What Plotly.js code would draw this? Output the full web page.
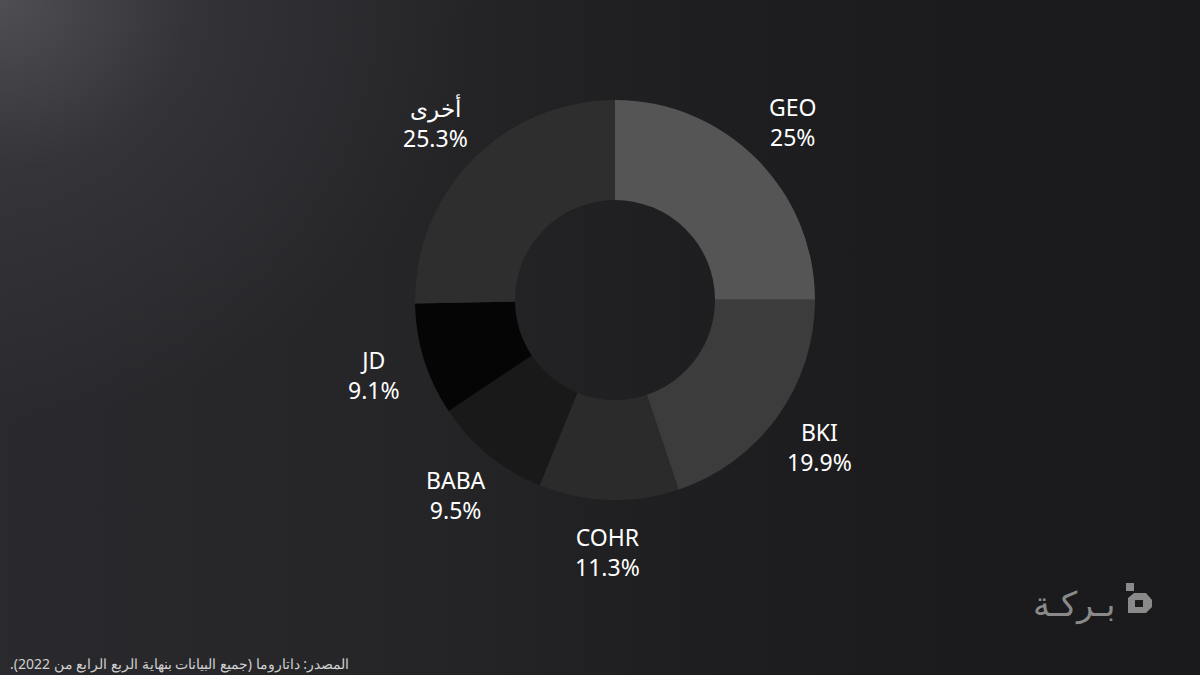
<!DOCTYPE html>
<html>
<head>
<meta charset="utf-8">
<script src="https://cdn.plot.ly/plotly-3.0.1.min.js"></script>
<style>
html,body{margin:0;padding:0;width:1200px;height:675px;overflow:hidden;}
body{background:
 radial-gradient(ellipse 480px 420px at 0px 0px, rgba(82,82,88,0.9) 0%, rgba(62,62,68,0.5) 40%, rgba(40,40,44,0) 100%),
 linear-gradient(90deg, #2a2a2e 0%, #252528 35%, #1f1f21 55%, #1b1b1d 80%, #1a1a1c 100%);}
#chart{width:1200px;height:675px;}
</style>
</head>
<body>
<div id="chart"></div>
<script>
const categories = ["GEO", "BKI", "COHR", "BABA", "JD", "أخرى"];
const shares = [25, 19.9, 11.3, 9.5, 9.1, 25.3];
const shareLabels = ["25%", "19.9%", "11.3%", "9.5%", "9.1%", "25.3%"];
const sliceColors = ["#555555", "#3c3c3c", "#2b2b2b", "#191919", "#050505", "#2e2e2e"];
const sourceText = "\u200Fالمصدر: داتاروما (جميع البيانات بنهاية الربع الرابع من 2022).\u200F";
const brandText = "بـركـة";

const W = 1200, H = 675;
const cx = 615, cy = 300, R = 200, labelR = 252;

const total = shares.reduce((a, b) => a + b, 0);
let cum = 0;
const annotations = [];
shares.forEach((v, i) => {
  const mid = (cum + v / 2) / total * 2 * Math.PI;
  cum += v;
  const px = cx + labelR * Math.sin(mid);
  const py = cy - labelR * Math.cos(mid);
  annotations.push({
    xref: "paper", yref: "paper",
    x: px / W, y: 1 - py / H,
    xanchor: "center", yanchor: "middle",
    text: categories[i] + "<br>" + shareLabels[i],
    showarrow: false,
    font: {family: "Noto Sans, sans-serif", size: 23, color: "#ffffff"}
  });
});
annotations.push({
  xref: "paper", yref: "paper", x: 8 / W, y: 1 - 663 / H,
  xanchor: "left", yanchor: "middle", showarrow: false,
  text: sourceText,
  font: {family: "Noto Sans, sans-serif", size: 14, color: "#cfcfcf"}
});
annotations.push({
  xref: "paper", yref: "paper", x: 1117 / W, y: 1 - 603 / H,
  xanchor: "right", yanchor: "middle", showarrow: false,
  text: brandText,
  font: {family: "Noto Sans, sans-serif", size: 34, color: "#8a8a8a"}
});

const shapes = [
  {type: "rect", xref: "paper", yref: "paper",
   x0: 1126 / W, x1: 1134 / W, y0: 1 - 591 / H, y1: 1 - 583 / H,
   fillcolor: "#8a8a8a", line: {width: 0}},
  {type: "path", xref: "paper", yref: "paper",
   path: "M " + (1134/W) + " " + (1-593/H) + " L " + (1146/W) + " " + (1-593/H) +
         " L " + (1152/W) + " " + (1-600/H) + " L " + (1152/W) + " " + (1-607/H) +
         " L " + (1146/W) + " " + (1-613/H) + " L " + (1128/W) + " " + (1-613/H) +
         " L " + (1128/W) + " " + (1-598/H) + " Z",
   fillcolor: "#8a8a8a", line: {width: 0}},
  {type: "rect", xref: "paper", yref: "paper",
   x0: 1135 / W, x1: 1143 / W, y0: 1 - 607 / H, y1: 1 - 600 / H,
   fillcolor: "#1c1c1e", line: {width: 0}}
];

const trace = {
  type: "pie",
  labels: categories,
  values: shares,
  marker: {colors: sliceColors, line: {width: 0}},
  hole: 0.5,
  sort: false,
  direction: "clockwise",
  rotation: 0,
  textinfo: "none",
  hoverinfo: "label+percent",
  domain: {x: [(cx - R) / W, (cx + R) / W], y: [1 - (cy + R) / H, 1 - (cy - R) / H]},
  showlegend: false
};

const layout = {
  width: W, height: H,
  margin: {l: 0, r: 0, t: 0, b: 0},
  paper_bgcolor: "rgba(0,0,0,0)",
  plot_bgcolor: "rgba(0,0,0,0)",
  showlegend: false,
  annotations: annotations,
  shapes: shapes
};

Plotly.newPlot("chart", [trace], layout, {displayModeBar: false, staticPlot: true});
</script>
</body>
</html>
